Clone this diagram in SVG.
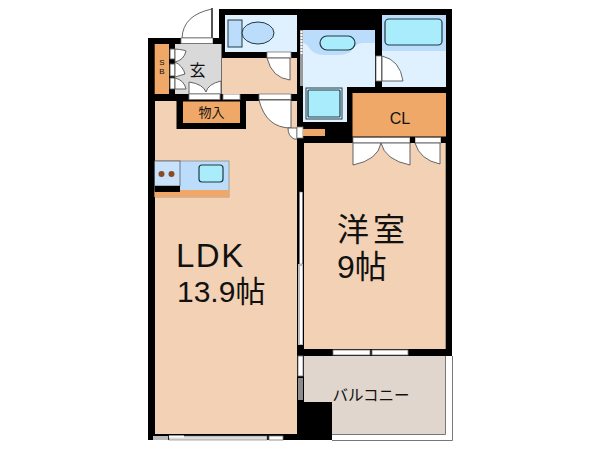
<svg xmlns="http://www.w3.org/2000/svg" width="600" height="450" viewBox="0 0 600 450">
<style>
.w{fill:#000}
.f{fill:#f3d1b4}
.o{fill:#f0a868}
.lb{fill:#dff1ff}
.mb{fill:#bcdcfb}
.cy{fill:#a9ecfb;stroke:#1d3a44;stroke-width:1.2}
.d{fill:#fff;stroke:#555;stroke-width:.9}
.s{fill:#fff;stroke:#777;stroke-width:.8}
.g{fill:#8c8c8c}
text{font-family:"Liberation Sans","Noto Sans CJK JP",sans-serif;fill:#111}
</style>
<rect width="600" height="450" fill="#fff"/>
<g id="walls">
<path class="w" d="M148 38H219V9H452V356H445V440H148Z"/>
</g>
<g id="ldk">
<path class="f" d="M155 101H297V434H155Z"/>
<text x="176" y="267" font-size="33" letter-spacing="1.500">LDK</text>
<text x="177" y="302" font-size="30">13.9帖</text>
</g>
<g id="storage">
<rect class="w" x="176.500" y="94" width="69.500" height="35"/>
<rect class="o" x="183" y="101.500" width="57" height="21.500"/>
<text x="211.500" y="117" font-size="13" text-anchor="middle">物入</text>
</g>
<g id="shoebox">
<rect class="o" x="154.700" y="44" width="14.300" height="50"/>
<text x="161.800" y="65" font-size="8" text-anchor="middle">S</text>
<text x="161.800" y="74" font-size="8" text-anchor="middle">B</text>
</g>
<g id="entry">
<rect x="175" y="44" width="46.500" height="50" fill="#d9d9d9"/>
<text x="197.500" y="76" font-size="16" text-anchor="middle">玄</text>
<path class="d" d="M170 49H175V59H170ZM170 64H175V76H170ZM170 78H175V89H170Z"/>
<path class="d" d="M175 49Q185 50 186 51Q184 60 175 62ZM175 62Q183 66 185 74L175 77ZM175 78Q184 80 186 89H175Z"/>
<path class="d" d="M189 94V82Q203 84 206 92Q208 84 221 81V94Z"/>
<path class="d" d="M223 94Q225 83 240 79V94Z"/>
<rect class="s" x="189" y="94" width="31" height="5.500"/>
<rect class="s" x="223" y="94" width="17" height="5.500"/>
<path class="d" d="M182 38Q183 15 212 9V38Z"/>
<rect x="211" y="8" width="2" height="30" fill="#555"/>
<rect class="s" x="181" y="38" width="32" height="5.500"/>
<rect class="w" x="213" y="38" width="8" height="6"/>
</g>
<g id="toilet">
<rect class="lb" x="225" y="15" width="72" height="37"/>
<rect class="mb" x="228" y="20" width="14" height="27" stroke="#1d3a44"/>
<ellipse cx="258" cy="33" rx="16" ry="11" class="mb" stroke="#1d3a44"/>
<rect class="f" x="222" y="58" width="75" height="36"/>
<rect class="s" x="267" y="52" width="24" height="6"/>
<path class="d" d="M267 58H290V80Q272 78 267 58Z"/>
<rect class="s" x="259" y="94" width="32" height="5.500"/>
<path class="d" d="M259 100H291V128Q266 128 259 100Z"/>
<path class="d" d="M288 128H297V139H294Q288 136 288 128Z"/>
<rect class="s" x="297" y="127" width="6" height="11"/>
</g>
<g id="washroom">
<path class="lb" d="M303 30H375V87H347V122H303Z"/>
<path class="mb" d="M303 30H375V43H363Q355 43 351 51Q347 55 338 55H325Q315 55 311 50Q307 44 303 43Z"/>
<rect class="cy" x="320" y="36" width="35" height="14" rx="7"/>
<rect x="306" y="88" width="36" height="31" fill="none" stroke="#1d3a44" stroke-width="1"/>
<rect class="cy" x="308" y="90" width="32" height="27" rx="1"/>
<rect x="300" y="30" width="3" height="56" fill="#999"/>
<path d="M301.500 31V55" stroke="#fff" stroke-width="2" stroke-dasharray="2 1"/>
</g>
<g id="bath">
<rect class="lb" x="382" y="15" width="64" height="72"/>
<rect class="mb" x="382" y="15" width="64" height="36"/>
<rect class="cy" x="385" y="19" width="57" height="26" rx="4"/>
<rect class="s" x="376" y="56" width="5.500" height="25"/>
<path class="d" d="M382 56Q400 60 403 81H382Z"/>
</g>
<g id="closet">
<rect class="o" x="352.500" y="93" width="93.500" height="43.500"/>
<text x="400" y="124" font-size="16" text-anchor="middle">CL</text>
<rect class="o" x="303" y="129" width="22" height="7"/>
</g>
<g id="bedroom">
<rect class="f" x="304" y="143" width="141.700" height="206"/>
<rect class="s" x="353" y="137.500" width="57" height="5.500"/>
<rect class="s" x="415" y="137.500" width="26" height="5.500"/>
<rect class="w" x="410" y="137" width="5" height="6"/>
<rect class="w" x="441" y="137" width="5" height="6"/>
<path class="d" d="M353 143H381Q378 160 353 165ZM381 143H410V165Q385 160 381 143ZM415 143H440V164Q420 160 415 143Z"/>
<text x="337" y="241" font-size="32" letter-spacing="4">洋室</text>
<text x="337" y="278" font-size="32">9帖</text>
</g>
<g id="kitchen">
<rect class="mb" x="154.700" y="161" width="74.300" height="36" stroke="#777" stroke-width=".6"/>
<rect x="154.700" y="161" width="25.300" height="25" fill="#c8e2fb" stroke="#333" stroke-width=".6"/>
<rect class="o" x="154.700" y="190" width="74.300" height="7"/>
<rect class="w" x="154.700" y="186" width="25.300" height="6"/>
<circle cx="161.500" cy="174" r="3" fill="#8a4a26"/>
<circle cx="171.500" cy="174" r="3" fill="#8a4a26"/>
<rect class="cy" x="199" y="165" width="24" height="17" rx="3"/>
</g>
<g id="balcony">
<rect x="304" y="356" width="141.700" height="78" fill="#e0d6cd"/>
<path d="M332 434V440H452V356H445V434Z" fill="#fff"/>
<path d="M332 434.500H445.500V356M332 440.500H452.500V356" fill="none" stroke="#777" stroke-width="1"/>
<rect class="w" x="297" y="402" width="35" height="38"/>
<text x="371" y="401" font-size="15.500" text-anchor="middle">バルコニー</text>
</g>
<g id="windows">
<rect class="s" x="333" y="350" width="37" height="5"/>
<rect class="s" x="372" y="350" width="36" height="5"/>
<rect class="s" x="298" y="356" width="5" height="20"/>
<rect class="g" x="298" y="378" width="5" height="22"/>
<rect class="s" x="299.500" y="192" width="3" height="72" stroke-dasharray="2 1"/>
<rect x="298" y="264" width="5" height="81" fill="#bbb"/>
<rect x="300" y="266" width="2" height="78" fill="#fff"/>
<rect x="153" y="436" width="15" height="4" fill="#bbb"/>
<rect x="169" y="436" width="98" height="4" fill="#ddd" stroke="#777" stroke-width=".6"/>
<rect x="169" y="435.500" width="15" height="2" fill="#fff"/>
<rect class="s" x="269" y="436" width="14" height="4"/>
</g>
</svg>
